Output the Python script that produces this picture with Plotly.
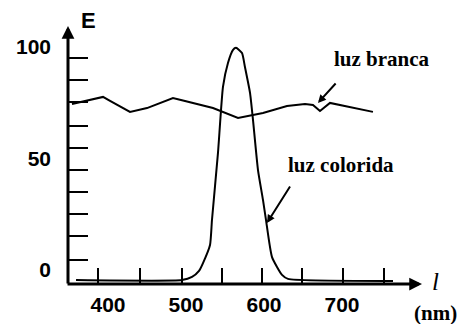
import plotly.graph_objects as go

# Data (wavelength in nm, relative energy E)
branca_nm = [353.8, 380.8, 393.6, 402.6, 428.2, 450.0, 483.3, 498.7, 534.6, 566.7,
             598.7, 629.5, 652.6, 662.8, 671.8, 684.6, 739.7]
branca_E = [74.4, 76.7, 77.6, 75.8, 70.9, 72.6, 77.1, 75.8, 72.6, 68.2,
            70.4, 73.5, 74.4, 74.0, 71.3, 74.9, 70.9]

colorida_nm = [359.0, 494.9, 507.7, 516.7, 521.8, 530.8, 533.3, 541.0, 547.4, 553.8,
               560.3, 564.1, 571.8, 575.6, 582.1, 585.9, 592.3, 598.7, 602.6, 610.3,
               623.1, 630.8, 765.4]
colorida_E = [-4.5, -4.5, -3.1, -0.4, 3.1, 11.2, 22.4, 52.5, 82.1, 92.8,
              98.7, 99.6, 97.3, 91.0, 79.4, 67.3, 44.8, 31.4, 22.4, 5.8,
              -2.2, -4.0, -4.9]

x_labels = [400, 500, 600, 700]
x_tick_marks = [387.2, 441.0, 494.9, 546.2, 597.4, 648.7, 701.3, 753.8]
y_labels = [0, 50, 100]
y_tick_marks = [4.5, 15.2, 25.1, 35.0, 44.8, 54.7, 64.6, 75.3, 85.2, 95.1]

SANS = "Liberation Sans"
SERIF = "Liberation Serif"

fig = go.Figure()
fig.add_trace(go.Scatter(x=branca_nm, y=branca_E, mode="lines",
                         line=dict(color="black", width=2), showlegend=False,
                         hoverinfo="skip"))
fig.add_trace(go.Scatter(x=colorida_nm, y=colorida_E, mode="lines",
                         line=dict(color="black", width=2, shape="spline", smoothing=0.5),
                         showlegend=False, hoverinfo="skip"))

fig.update_layout(
    width=459, height=324, autosize=False,
    margin=dict(l=68, r=37, t=26, b=40, pad=0, autoexpand=False),
    paper_bgcolor="white", plot_bgcolor="white",
    xaxis=dict(range=[348.7, 802.6], showgrid=False, zeroline=False, showline=False,
               tickmode="array", tickvals=x_labels, ticktext=[str(v) for v in x_labels],
               ticks="", ticklabelstandoff=6, automargin=False,
               tickfont=dict(family=SANS, size=21, color="black", weight="bold"),
               minor=dict(tickmode="array", tickvals=x_tick_marks, ticks="inside",
                          ticklen=16, tickwidth=2, tickcolor="black", showgrid=False)),
    yaxis=dict(range=[-6.28, 109.4], showgrid=False, zeroline=False, showline=False,
               tickmode="array", tickvals=y_labels, ticktext=[str(v) for v in y_labels],
               ticks="", ticklabelstandoff=16, automargin=False,
               tickfont=dict(family=SANS, size=21, color="black", weight="bold"),
               minor=dict(tickmode="array", tickvals=y_tick_marks, ticks="inside",
                          ticklen=20, tickwidth=2, tickcolor="black", showgrid=False)),
)

# Axis lines with arrowheads
fig.add_annotation(xref="x domain", yref="y domain", axref="x domain", ayref="y domain",
                   x=1.0, y=0.0, ax=-0.0056, ay=0.0, text="", showarrow=True,
                   arrowhead=2, arrowsize=0.85, arrowwidth=3, arrowcolor="black")
fig.add_annotation(xref="x domain", yref="y domain", axref="x domain", ayref="y domain",
                   x=0.0, y=1.0, ax=0.0, ay=-0.004, text="", showarrow=True,
                   arrowhead=2, arrowsize=0.85, arrowwidth=3, arrowcolor="black")

# Axis titles (placed in paper coordinates, outside the plotting area)
fig.add_annotation(x=0.0565, y=1.023, xref="paper", yref="paper", text="E", showarrow=False,
                   xanchor="center", yanchor="middle",
                   font=dict(family=SANS, size=22, color="black", weight="bold"))
fig.add_annotation(x=1.037, y=0.0078, xref="paper", yref="paper", text="<i>l</i>",
                   xanchor="center", yanchor="middle",
                   showarrow=False, font=dict(family=SERIF, size=25, color="black"))
fig.add_annotation(x=1.037, y=-0.112, xref="paper", yref="paper", text="(nm)",
                   xanchor="center", yanchor="middle", showarrow=False,
                   font=dict(family=SERIF, size=21, color="black", weight="bold"))

# Curve labels
fig.add_annotation(x=751.3, y=94.4, xref="x", yref="y", text="luz branca", showarrow=False,
                   font=dict(family=SERIF, size=21, color="black", weight="bold"))
fig.add_annotation(x=698.7, y=47.3, xref="x", yref="y", text="luz colorida", showarrow=False,
                   font=dict(family=SERIF, size=21, color="black", weight="bold"))

# Pointer arrows
fig.add_annotation(xref="x", yref="y", axref="x", ayref="y",
                   x=669.2, y=74.9, ax=693.6, ay=84.3, text="", showarrow=True,
                   arrowhead=2, arrowsize=0.8, arrowwidth=2, arrowcolor="black")
fig.add_annotation(xref="x", yref="y", axref="x", ayref="y",
                   x=603.8, y=21.1, ax=634.6, ay=38.1, text="", showarrow=True,
                   arrowhead=2, arrowsize=0.8, arrowwidth=2, arrowcolor="black")

fig.write_html("out.html")
